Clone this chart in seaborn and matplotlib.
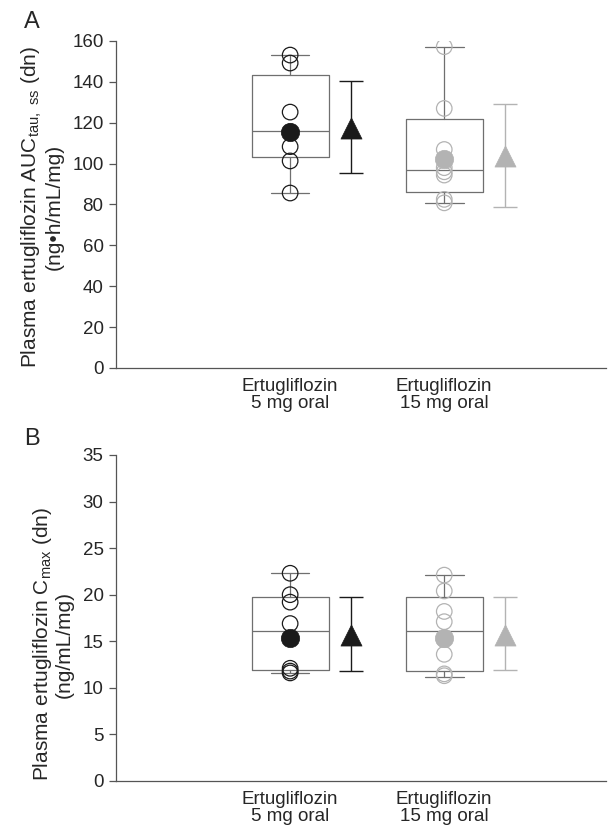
import numpy as np
import pandas as pd
import seaborn as sns
import matplotlib.pyplot as plt

# categories
groups = ['Ertugliflozin\n5 mg oral', 'Ertugliflozin\n15 mg oral']

# Panel A: AUC tau,ss (dose normalised)
auc_5 = [153.1, 149.2, 125.2, 115.5, 108.3, 101.3, 85.6]
auc_15 = [157.2, 127.0, 106.9, 98.0, 96.0, 94.4, 82.5, 80.8]
auc_q1 = [103.2, 86.0]
auc_med = [115.9, 96.9]
auc_q3 = [143.3, 121.8]
auc_whislo = [85.6, 80.8]
auc_whishi = [153.1, 157.2]
auc_gmean = [115.6, 102.1]
auc_mean = [117.5, 103.7]
auc_sd_lo = [95.2, 78.9]
auc_sd_hi = [140.4, 129.2]

# Panel B: Cmax (dose normalised)
cmax_5 = [22.3, 20.0, 19.2, 16.9, 15.3, 12.1, 11.8, 11.6]
cmax_15 = [22.1, 20.4, 18.2, 17.1, 15.2, 13.6, 11.5, 11.3]
cmax_q1 = [11.9, 11.85]
cmax_med = [16.07, 16.14]
cmax_q3 = [19.7, 19.72]
cmax_whislo = [11.56, 11.2]
cmax_whishi = [22.3, 22.1]
cmax_gmean = [15.4, 15.4]
cmax_mean = [15.7, 15.7]
cmax_sd_lo = [11.85, 11.9]
cmax_sd_hi = [19.8, 19.7]

point_colors = ['#1a1a1a', '#b3b3b3']
box_color = '#6f6f6f'

sns.set_style('ticks')
plt.rcParams['font.family'] = ['Liberation Sans', 'DejaVu Sans']
plt.rcParams['mathtext.fontset'] = 'custom'
plt.rcParams['mathtext.rm'] = 'Liberation Sans'

fig = plt.figure(figsize=(6.08, 8.26), dpi=100)
axA = fig.add_axes([0.1908, 0.5545, 0.806, 0.3959])
axB = fig.add_axes([0.1908, 0.0545, 0.806, 0.3947])

tri_off = 0.396


def draw_panel(ax, raw, q1, med, q3, wlo, whi, gmean, mean, sdlo, sdhi):
    stats = []
    for i in range(2):
        stats.append(dict(med=med[i], q1=q1[i], q3=q3[i],
                          whislo=wlo[i], whishi=whi[i], fliers=[]))
    lp = dict(color=box_color, linewidth=0.9)
    ax.bxp(stats, positions=[0, 1], widths=0.5, showfliers=False,
           boxprops=lp, whiskerprops=lp, capprops=lp, medianprops=lp,
           capwidths=0.25, manage_ticks=False)
    for i, vals in enumerate(raw):
        df = pd.DataFrame({'x': [i] * len(vals), 'y': vals})
        sns.scatterplot(data=df, x='x', y='y', ax=ax, marker='o', s=125,
                        facecolors='none', edgecolor=point_colors[i],
                        linewidth=0.9, zorder=4)
        sns.scatterplot(x=[i], y=[gmean[i]], ax=ax, marker='o', s=175,
                        color=point_colors[i], edgecolor=point_colors[i],
                        linewidth=0.5, zorder=5)
        xt = i + tri_off
        ax.errorbar([xt], [mean[i]],
                    yerr=[[mean[i] - sdlo[i]], [sdhi[i] - mean[i]]],
                    fmt='none', ecolor=point_colors[i], elinewidth=1.0,
                    capsize=8.5, capthick=1.0, zorder=3)
        sns.scatterplot(x=[xt], y=[mean[i]], ax=ax, marker='^', s=230,
                        color=point_colors[i], edgecolor=point_colors[i],
                        linewidth=0.5, zorder=5)
    ax.set_xlim(-1.13, 2.05)
    ax.set_xticks([0, 1])
    ax.set_xticklabels(groups, fontsize=13.5, linespacing=1.05)
    ax.tick_params(axis='x', length=0, pad=7)
    ax.tick_params(axis='y', length=5, width=0.9, color='#555555',
                   labelsize=13.5, pad=4)
    for sp in ['top', 'right']:
        ax.spines[sp].set_visible(False)
    for sp in ['left', 'bottom']:
        ax.spines[sp].set_color('#555555')
        ax.spines[sp].set_linewidth(0.9)
    ax.set_xlabel('')


draw_panel(axA, [auc_5, auc_15], auc_q1, auc_med, auc_q3, auc_whislo,
           auc_whishi, auc_gmean, auc_mean, auc_sd_lo, auc_sd_hi)
axA.set_ylim(0, 160)
axA.set_yticks(np.arange(0, 161, 20))
axA.set_ylabel('Plasma ertugliflozin AUC$_{\\mathregular{tau,\\ ss}}$ (dn)\n(ng\u2022h/mL/mg)',
               fontsize=15, labelpad=6, linespacing=1.05, loc='bottom',
               multialignment='center')

draw_panel(axB, [cmax_5, cmax_15], cmax_q1, cmax_med, cmax_q3, cmax_whislo,
           cmax_whishi, cmax_gmean, cmax_mean, cmax_sd_lo, cmax_sd_hi)
axB.set_ylim(0, 35)
axB.set_yticks(np.arange(0, 36, 5))
axB.set_ylabel('Plasma ertugliflozin C$_{\\mathregular{max}}$ (dn)\n(ng/mL/mg)',
               fontsize=15, labelpad=6, linespacing=1.05, loc='bottom',
               multialignment='center')

fig.text(0.04, 0.987, 'A', fontsize=17, va='top', ha='left')
fig.text(0.04, 0.482, 'B', fontsize=17, va='top', ha='left')

fig.savefig('out.png', dpi=100)
